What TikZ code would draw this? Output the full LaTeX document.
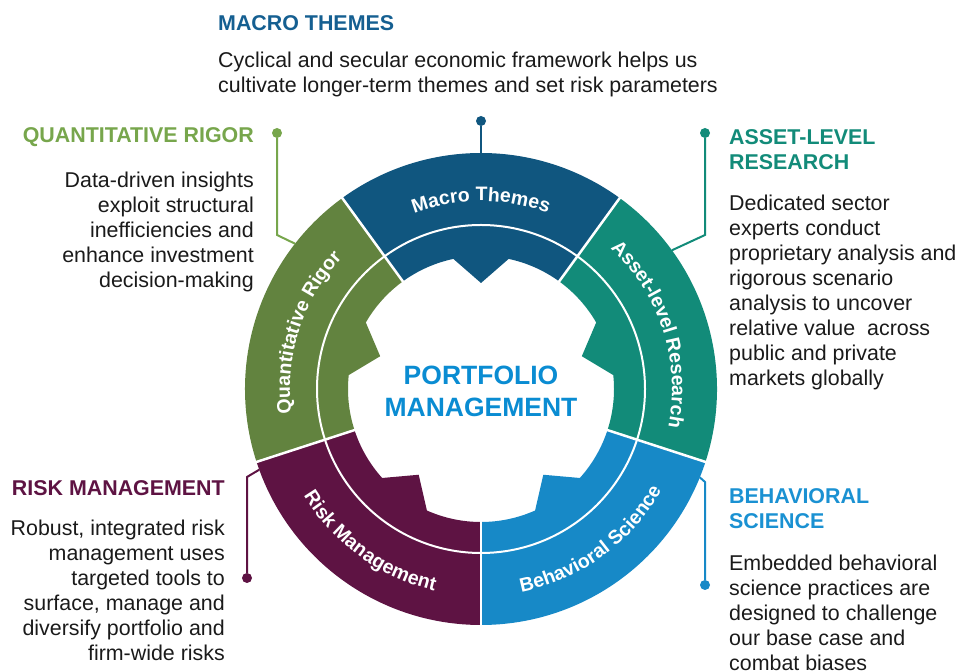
\documentclass[tikz,border=0pt]{standalone}
\usepackage{fontspec}
\setmainfont{Liberation Sans}
\usetikzlibrary{decorations.text}

\definecolor{macroblue}{HTML}{10567F}
\definecolor{macrohead}{HTML}{155F91}
\definecolor{quantgreen}{HTML}{62833F}
\definecolor{quanthead}{HTML}{77A64C}
\definecolor{assetteal}{HTML}{128B79}
\definecolor{riskplum}{HTML}{5E1343}
\definecolor{behavblue}{HTML}{1789C7}
\definecolor{behavhead}{HTML}{1A91D2}
\definecolor{pmblue}{HTML}{0A8CD2}
\definecolor{bodyblack}{HTML}{1A1A1A}

\begin{document}
\begin{tikzpicture}[x=1pt, y=1pt,
  sep/.style={white, line width=2.5pt},
  ringline/.style={white, line width=2pt},
  link/.style={line width=2pt},
  dot/.style={circle, inner sep=0, minimum size=10pt},
  head/.style={inner sep=0, font=\bfseries\fontsize{21.4}{25}\selectfont},
  body/.style={inner sep=0, text=bodyblack, font=\fontsize{21.4}{25}\selectfont},
  seglabel/.style={decorate, decoration={text along path, text align=center, text color=white,
    text={|\bfseries\fontsize{19.5}{19.5}\selectfont|#1}}}]
\useasboundingbox (0,0) rectangle (956,671);

% Wheel
\begin{scope}[shift={(481,282)}]
\fill[macroblue] (54:236) arc[start angle=54, end angle=126, radius=236] -- (126:133)
  arc[start angle=126, end angle=102, radius=133] -- (90:106) -- (78:133)
  arc[start angle=78, end angle=54, radius=133] -- cycle;
\fill[quantgreen] (126:236) arc[start angle=126, end angle=198, radius=236] -- (198:133)
  arc[start angle=198, end angle=174, radius=133] -- (162:106) -- (150:133)
  arc[start angle=150, end angle=126, radius=133] -- cycle;
\fill[riskplum] (198:236) arc[start angle=198, end angle=270, radius=236] -- (270:133)
  arc[start angle=270, end angle=246, radius=133] -- (234:106) -- (222:133)
  arc[start angle=222, end angle=198, radius=133] -- cycle;
\fill[behavblue] (270:236) arc[start angle=270, end angle=342, radius=236] -- (342:133)
  arc[start angle=342, end angle=318, radius=133] -- (306:106) -- (294:133)
  arc[start angle=294, end angle=270, radius=133] -- cycle;
\fill[assetteal] (-18:236) arc[start angle=-18, end angle=54, radius=236] -- (54:133)
  arc[start angle=54, end angle=30, radius=133] -- (18:106) -- (6:133)
  arc[start angle=6, end angle=-18, radius=133] -- cycle;
% separators
\draw[sep] (54:125) -- (54:240);
\draw[sep] (126:125) -- (126:240);
\draw[sep] (198:125) -- (198:240);
\draw[sep] (270:125) -- (270:240);
\draw[sep] (342:125) -- (342:240);
\draw[ringline] (0,0) circle[radius=164];
% labels on the wheel
\path[seglabel=Macro Themes] (126:188) arc[start angle=126, end angle=54, radius=188];
\path[seglabel=Quantitative Rigor] (198:191) arc[start angle=198, end angle=126, radius=191];
\path[seglabel=Asset-level Research] (54:191) arc[start angle=54, end angle=-18, radius=191];
\path[seglabel=Risk Management] (198:207) arc[start angle=198, end angle=270, radius=207];
\path[seglabel=Behavioral Science] (270:207) arc[start angle=270, end angle=342, radius=207];
% ring ends of the connectors
\coordinate (mt-ring) at (90:236);
\coordinate (qr-ring) at (142:236);
\coordinate (ar-ring) at (36:236);
\coordinate (rm-ring) at (200:236);
\coordinate (bs-ring) at (338:236);
\end{scope}

\node[inner sep=0, anchor=north, align=center, text=pmblue,
  font=\bfseries\fontsize{26.5}{32}\selectfont] (pm) at (481,305) {PORTFOLIO\\MANAGEMENT};

% Connectors
\node[dot, fill=macroblue] (mt-dot) at (481,550) {};
\node[dot, fill=quanthead] (qr-dot) at (277,538) {};
\node[dot, fill=assetteal] (ar-dot) at (705,538) {};
\node[dot, fill=riskplum] (rm-dot) at (247,93) {};
\node[dot, fill=behavblue] (bs-dot) at (705,86) {};
\coordinate (qr-bend) at (277,436);
\coordinate (ar-bend) at (705,436);
\coordinate (rm-bend) at (247,194);
\coordinate (bs-bend) at (705,189);
\draw[link, macroblue] (mt-dot) -- (mt-ring);
\draw[link, quanthead] (qr-dot) -- (qr-bend) -- (qr-ring);
\draw[link, assetteal] (ar-dot) -- (ar-bend) -- (ar-ring);
\draw[link, riskplum] (rm-dot) -- (rm-bend) -- (rm-ring);
\draw[link, behavblue] (bs-dot) -- (bs-bend) -- (bs-ring);

% Texts
\node[head, text=macrohead, anchor=north west] (mt-head) at (218,656) {MACRO THEMES};
\node[body, anchor=north west, align=left] (mt-body) at (218,619)
  {Cyclical and secular economic framework helps us\\cultivate longer-term themes and set risk parameters};
\node[head, text=quanthead, anchor=north east] (qr-head) at (254,544) {QUANTITATIVE RIGOR};
\node[body, anchor=north east, align=right] (qr-body) at (254,499)
  {Data-driven insights\\exploit structural\\inefficiencies and\\enhance investment\\decision-making};
\node[head, text=assetteal, anchor=north west, align=left] (ar-head) at (729,542) {ASSET-LEVEL\\RESEARCH};
\node[body, anchor=north west, align=left] (ar-body) at (729,476)
  {Dedicated sector\\experts conduct\\proprietary analysis and\\rigorous scenario\\analysis to uncover\\relative value\ \ across\\public and private\\markets globally};
\node[head, text=riskplum, anchor=north east] (rm-head) at (225,191) {RISK MANAGEMENT};
\node[body, anchor=north east, align=right] (rm-body) at (225,151)
  {Robust, integrated risk\\management uses\\targeted tools to\\surface, manage and\\diversify portfolio and\\firm-wide risks};
\node[head, text=behavhead, anchor=north west, align=left] (bs-head) at (729,183) {BEHAVIORAL\\SCIENCE};
\node[body, anchor=north west, align=left] (bs-body) at (729,116)
  {Embedded behavioral\\science practices are\\designed to challenge\\our base case and\\combat biases};
\end{tikzpicture}
\end{document}
